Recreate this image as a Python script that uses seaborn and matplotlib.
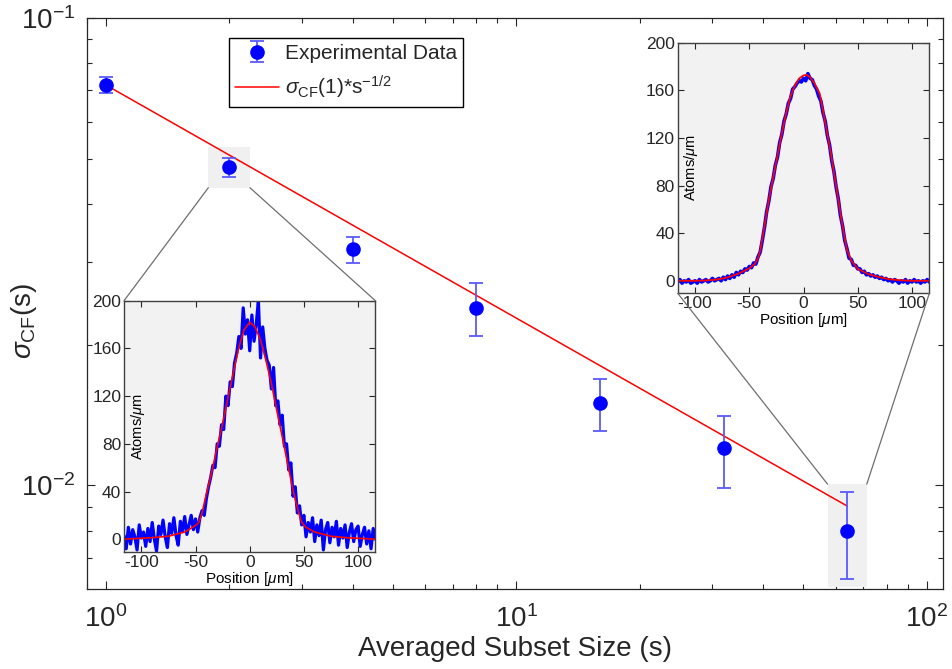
import numpy as np
import pandas as pd
import matplotlib
matplotlib.use("Agg")
import matplotlib.pyplot as plt
import seaborn as sns
from matplotlib.patches import Rectangle, ConnectionPatch

# ---------------- main data ----------------
subset_size = [1, 2, 4, 8, 16, 32, 64]
sigma_cf = [0.0719, 0.0480, 0.0320, 0.0239, 0.0150, 0.0120, 0.0080]
sigma_upper = [0.0746, 0.0502, 0.0340, 0.0271, 0.0169, 0.0141, 0.00968]
sigma_lower = [0.0690, 0.0457, 0.02985, 0.0209, 0.0131, 0.00988, 0.00629]
fit_x = [1, 64]
fit_y = [0.0719, 0.00903]

# ---------------- inset data ----------------
profile_pos = list(range(-116, 117, 2))
# left inset (subset size 2): noisy profile
left_atoms = [3, -8, 10, -4, 8, 2, -9, 12, 1, 6,
              -6, 9, -2, 14, 0, -10, 11, 4, 16, 2,
              -7, 13, 5, 18, 3, -5, 15, 7, 19, 4,
              12, 20, 8, 17, 6, 18, 24, 20, 34, 44,
              52, 62, 60, 80, 78, 96, 92, 120, 112, 132,
              128, 148, 156, 170, 160, 194, 172, 184, 158, 188,
              166, 180, 200, 152, 178, 160, 150, 146, 126, 144,
              112, 116, 96, 104, 78, 80, 58, 64, 36, 44,
              22, 28, 12, 20, 2, 14, 6, 18, -2, 12,
              3, 16, -9, 8, 14, -3, 10, 2, 15, -5,
              9, 1, 12, -7, 6, 13, -2, 8, 11, -6,
              4, 10, -4, 7, -8, 9, 0]
left_fit_pos = [-116, -100, -90, -75, -60, -50, -47, -44, -40, -35, -30, -25, -20,
                -15, -10, -5, 0, 5, 10, 15, 20, 25, 30, 35, 40, 45, 48, 52, 60,
                75, 90, 100, 116]
left_fit = [0, 0.8, 1.3, 2.5, 6, 11.5, 14, 22, 38, 56.5, 77.5, 97, 119,
            140, 161, 176, 182, 178, 167, 150, 130.6, 108, 86, 63.5, 41, 23, 14, 10, 6,
            2.5, 1.2, 0.8, 0]

# right inset (subset size 64): smoother profile
right_atoms = [-1, 1, -2, 0, -1, 1, -2, -1, 0, -2,
               1, -1, 0, 1, -1, 0, 2, 0, 1, 2,
               0, 3, 1, 4, 2, 5, 3, 7, 5, 8,
               7, 10, 9, 12, 11, 15, 14, 20, 24, 34,
               45, 58, 67, 79, 86, 97, 104, 116, 123, 134,
               140, 149, 153, 161, 163, 166, 168, 167, 170, 168,
               174, 170, 169, 164, 161, 155, 151, 141, 134, 122,
               114, 101, 92, 79, 69, 55, 46, 34, 27, 19,
               18, 13, 13, 10, 10, 7, 8, 5, 6, 4,
               5, 3, 4, 2, 3, 1, 2, 0, 1, -1,
               1, 0, -2, 0, -1, 1, -2, 0, -1, 1,
               -1, 0, -2, 0, -1, 1, -1]
right_fit_pos = [-116, -100, -90, -80, -70, -60, -50, -45, -42, -40, -36, -32, -28,
                 -24, -20, -16, -12, -8, -4, 0, 3, 6, 10, 15, 20, 25, 30, 35, 40,
                 44, 50, 60, 70, 80, 90, 100, 116]
right_fit = [0, 0, 0.3, 1, 2.8, 6, 10.5, 14, 19, 25, 46, 68, 87,
             105, 124, 141, 155, 164, 170, 172.5, 173, 171, 166, 157, 133, 108, 80, 51, 26,
             17, 10, 5.5, 3, 1.2, 0.4, 0, 0]

# ---------------- style ----------------
sns.set_theme(style="ticks")
plt.rcParams["font.family"] = ["Liberation Sans", "DejaVu Sans"]
plt.rcParams["mathtext.fontset"] = "custom"
plt.rcParams["mathtext.rm"] = "Liberation Sans"
plt.rcParams["mathtext.it"] = "Liberation Sans:italic"
plt.rcParams["mathtext.bf"] = "Liberation Sans:bold"
plt.rcParams["mathtext.default"] = "regular"
plt.rcParams["axes.unicode_minus"] = False

DARK = "#262626"
BLUE = "#0000ff"
RED = "#ff0000"

fig = plt.figure(figsize=(9.52, 6.69), dpi=100)
ax = fig.add_axes([0.0911, 0.1200, 0.8998, 0.8532])

# zoom boxes
ax.add_patch(Rectangle((1.778, 0.04332), 2.246 - 1.778, 0.0529 - 0.04332,
                       facecolor="#f0f0f0", edgecolor="none", zorder=1))
ax.add_patch(Rectangle((57.3, 0.00607), 71.4 - 57.3, 0.01006 - 0.00607,
                       facecolor="#f0f0f0", edgecolor="none", zorder=1))

# fit line
fit_df = pd.DataFrame({"s": fit_x, "sig": fit_y})
sns.lineplot(data=fit_df, x="s", y="sig", ax=ax, color=RED, lw=1.1,
             label=r"$\mathit{\sigma}_{CF}$(1)*s$^{-1/2}$", zorder=3)

# experimental data
yerr = np.array([np.array(sigma_cf) - np.array(sigma_lower),
                 np.array(sigma_upper) - np.array(sigma_cf)])
eb = ax.errorbar(subset_size, sigma_cf, yerr=yerr, fmt="o", color=BLUE,
                 ecolor="#5a5aff", elinewidth=1.3, capsize=5, capthick=1.3,
                 markersize=9.5, label="Experimental Data", zorder=4)

ax.set_xscale("log")
ax.set_yscale("log")
ax.set_xlim(0.899, 109.7)
ax.set_ylim(0.00601, 0.1)
ax.tick_params(which="both", direction="in", top=True, right=True,
               colors=DARK, width=0.8)
ax.tick_params(which="major", length=6, labelsize=20)
ax.tick_params(axis="x", which="major", pad=12)
ax.tick_params(axis="y", which="major", pad=8)
ax.tick_params(which="minor", length=3.5)
for sp in ax.spines.values():
    sp.set_color(DARK)
    sp.set_linewidth(0.9)
ax.set_xlabel("Averaged Subset Size (s)", fontsize=20, color=DARK, labelpad=2)
ax.set_ylabel(r"$\mathit{\sigma}_{CF}$(s)", fontsize=20, color=DARK, va="center")
ax.yaxis.set_label_coords(-0.073, 0.47)

handles, labels = ax.get_legend_handles_labels()
i_exp = labels.index("Experimental Data")
order = [i_exp, 1 - i_exp]
leg = ax.legend([handles[i] for i in order], [labels[i] for i in order],
                loc="upper left", bbox_to_anchor=(0.1658, 0.9653),
                borderaxespad=0, fontsize=15, frameon=True, fancybox=False,
                framealpha=1, edgecolor="black", handlelength=2.1,
                borderpad=0.3, labelspacing=0.5, handletextpad=0.3)
leg.get_frame().set_linewidth(1.0)


def style_inset(a, ylo):
    a.set_facecolor("#f2f2f2")
    a.set_xlim(-116, 116)
    a.set_ylim(ylo, 200)
    a.set_xticks([-100, -50, 0, 50, 100])
    a.set_yticks([0, 40, 80, 120, 160, 200])
    a.tick_params(direction="in", top=True, right=True, length=4, width=0.8,
                  labelsize=12.5, pad=2, colors=DARK)
    for sp in a.spines.values():
        sp.set_color("#404040")
        sp.set_linewidth(1.0)
    a.set_xlabel(r"Position [$\mathit{\mu}$m]", fontsize=11, labelpad=0, color="black")
    a.set_ylabel(r"Atoms/$\mathit{\mu}$m", fontsize=10.5, color="black")
    a.yaxis.set_label_coords(0.09, 0.5)
    leg_ = a.get_legend()
    if leg_ is not None:
        leg_.remove()


# left inset
ins1 = fig.add_axes([0.1303, 0.1744, 0.2640, 0.3761])
sns.lineplot(x=profile_pos, y=left_atoms, ax=ins1, color=BLUE, lw=2.3,
             estimator=None, sort=False)
sns.lineplot(x=left_fit_pos, y=left_fit, ax=ins1, color=RED, lw=1.2,
             estimator=None, sort=False)
style_inset(ins1, -11)

# right inset
ins2 = fig.add_axes([0.7119, 0.5616, 0.2643, 0.3746])
sns.lineplot(x=profile_pos, y=right_atoms, ax=ins2, color=BLUE, lw=2.6,
             estimator=None, sort=False)
sns.lineplot(x=right_fit_pos, y=right_fit, ax=ins2, color=RED, lw=1.3,
             estimator=None, sort=False)
style_inset(ins2, -10.5)

# connector lines
conn_color = "#6e6e6e"
for (xa, ya), (xb, yb), axb in [((1.778, 0.04332), (0, 1), ins1),
                                 ((2.246, 0.04332), (1, 1), ins1),
                                 ((57.3, 0.01006), (0, 0), ins2),
                                 ((71.4, 0.01006), (1, 0), ins2)]:
    cp = ConnectionPatch(xyA=(xa, ya), coordsA=ax.transData,
                         xyB=(xb, yb), coordsB=axb.transAxes,
                         color=conn_color, lw=0.9)
    fig.add_artist(cp)

fig.savefig("out.png", dpi=100)
